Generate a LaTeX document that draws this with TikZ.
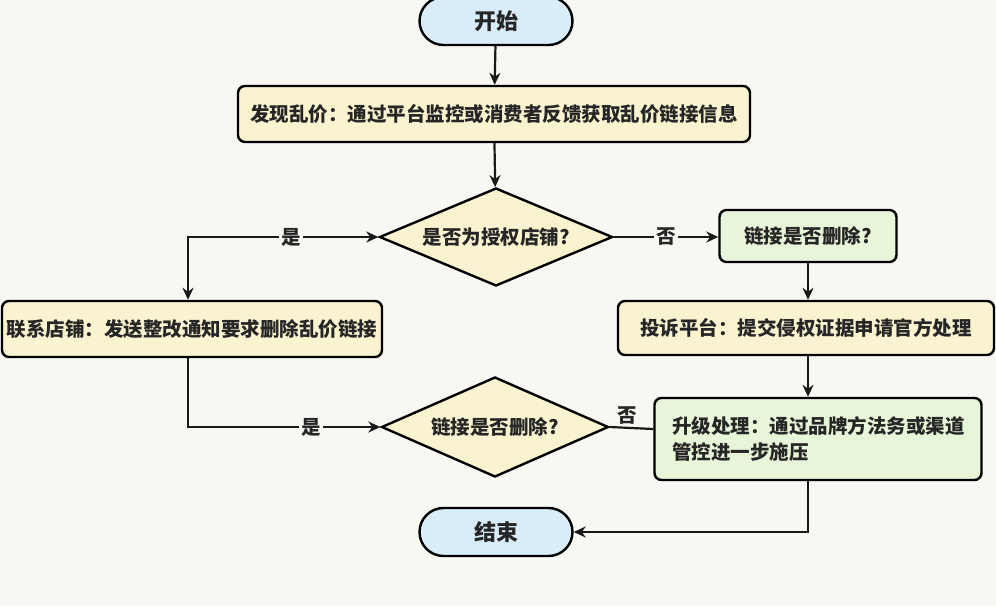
\documentclass[tikz,border=0pt]{standalone}
\usepackage{fontspec}
\setmainfont{Noto Sans CJK SC}
\usetikzlibrary{shapes.geometric,shapes.misc,arrows.meta}
\definecolor{bgc}{HTML}{F8F7F2}
\definecolor{termc}{HTML}{D8ECFA}
\definecolor{procy}{HTML}{FAF3D0}
\definecolor{procg}{HTML}{E7F5D8}
\definecolor{diac}{HTML}{FAF3D0}
\tikzset{
  base/.style={draw=black, line width=2.4pt, font=\bfseries\fontsize{19.5}{26}\selectfont, text=black!85, inner sep=0pt},
  term/.style={base, rounded rectangle, fill=termc, minimum width=153pt, minimum height=48pt, font=\bfseries\fontsize{22}{26}\selectfont},
  procbox/.style={base, rounded corners=7pt, minimum height=56pt},
  decision/.style={base, diamond, fill=diac, minimum width=233pt, minimum height=98pt},
  dtext/.style={font=\bfseries\fontsize{19.5}{26}\selectfont, text=black!85, inner sep=0pt},
  conn/.style={line width=2.2pt, draw=black!90},
  arr/.style={conn, -{Stealth[length=12pt,width=11pt]}},
  lbl/.style={fill=bgc, inner sep=2pt, font=\bfseries\fontsize{19.5}{22}\selectfont, text=black!85}
}
\begin{document}
\begin{tikzpicture}[x=1pt,y=-1pt]
\fill[bgc] (0,0) rectangle (996,606);
\useasboundingbox (0,0) rectangle (996,606);

\node[term] (start) at (496,21) {开始};
\node[procbox, fill=procy, minimum width=512pt] (find) at (494,114) {发现乱价：通过平台监控或消费者反馈获取乱价链接信息};
\node[decision] (d1) at (496,237) {};
\node[dtext] (d1t) at (d1) {是否为授权店铺?};
\node[procbox, fill=procg, minimum width=177pt, minimum height=52pt] (chk1) at (808,236) {链接是否删除?};
\node[procbox, fill=procy, minimum width=380pt] (contact) at (192,329) {联系店铺：发送整改通知要求删除乱价链接};
\node[procbox, fill=procy, minimum width=376pt, minimum height=54pt] (complain) at (806,328) {投诉平台：提交侵权证据申请官方处理};
\node[decision, minimum width=227pt, minimum height=100pt] (d2) at (495,427) {};
\node[dtext] (d2t) at (d2) {链接是否删除?};
\node[procbox, fill=procg, minimum width=327pt, minimum height=82pt, text width=292pt, align=left] (escalate) at (818,439) {升级处理：通过品牌方法务或渠道\\管控进一步施压};
\node[term] (end) at (496,532) {结束};

\draw[arr] (start) -- (find);
\draw[arr] (find) -- (d1);
\draw[conn, {Stealth[length=12pt,width=11pt]}-{Stealth[length=12pt,width=11pt]}] (d1.west) -| ([xshift=-4pt]contact.north) node[lbl, pos=0.23] {是};
\draw[arr] (d1.east) -- (d1.east -| chk1.west) node[lbl, midway] {否};
\draw[arr] (chk1.south) -- (chk1.south |- complain.north);
\draw[arr] ([xshift=2pt]complain.south) -- ([xshift=2pt]complain.south |- escalate.north);
\draw[arr] ([xshift=-4pt]contact.south) |- (d2.west) node[lbl, pos=0.82] {是};
\coordinate (e5) at (d2.east -| escalate.west);
\draw[conn] (d2.east) -- ([yshift=-2pt]e5);
\node[lbl, fill=none] (no2) at (627,416) {否};
\coordinate (e6) at ([xshift=-10pt]escalate.south);
\draw[arr] (e6) |- (end.east);
\end{tikzpicture}
\end{document}
